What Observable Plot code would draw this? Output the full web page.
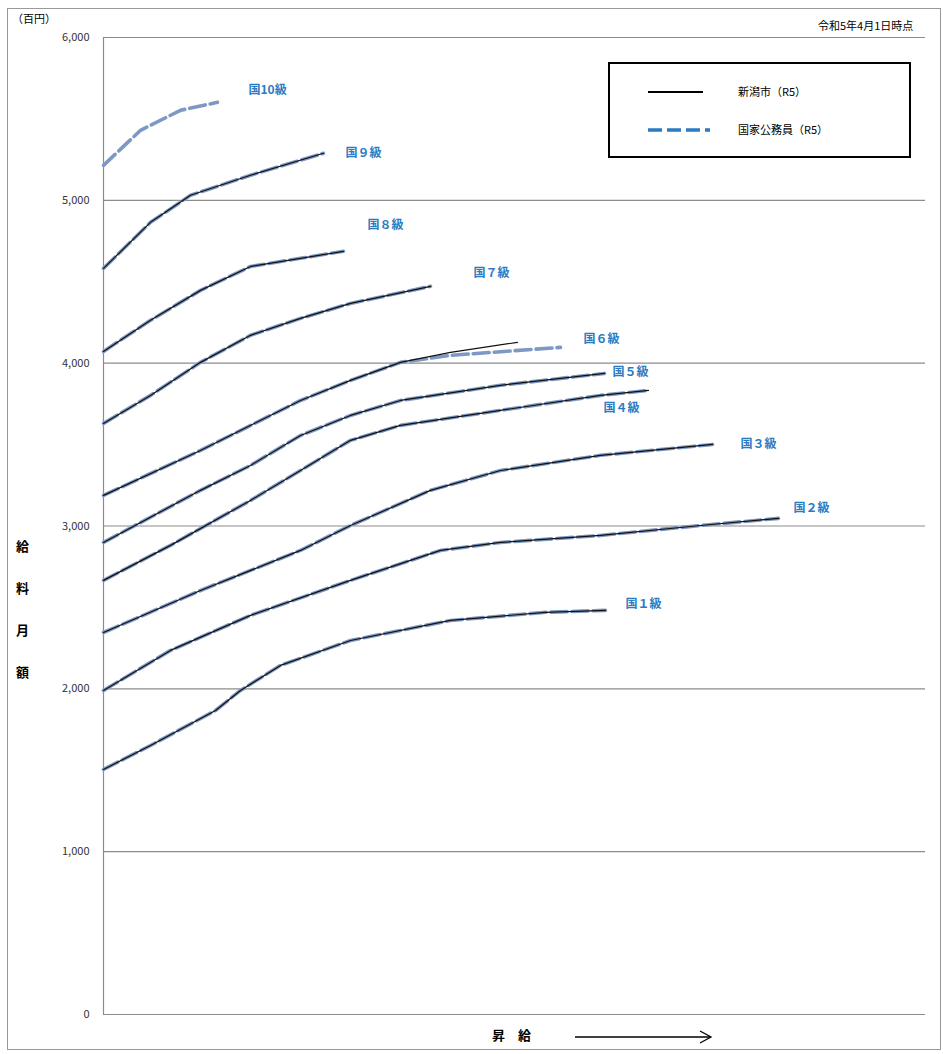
<!DOCTYPE html>
<html><head><meta charset="utf-8">
<script src="https://cdn.jsdelivr.net/npm/d3@7"></script>
<script src="https://cdn.jsdelivr.net/npm/@observablehq/plot@0.6"></script>
<style>
body{margin:0;background:#fff;font-family:"Noto Sans CJK JP",sans-serif}
#wrap{position:relative;width:943px;height:1054px}
.t{position:absolute;white-space:nowrap}
</style></head><body>
<div id="wrap"><div id="vis"></div></div>
<script>
// step position (0 = first step), salary in 百円
const grades = ["国１級","国２級","国３級","国４級","国５級","国６級","国７級","国８級","国９級","国10級"]
const steps = [
  [0,47,112,137,177,247,347,442,502],
  [0,67,147,247,337,397,497,597,675],
  [0,97,197,247,327,397,497,609],
  [0,67,147,197,247,297,397,497,545],
  [0,97,147,197,247,297,397,501],
  [0,97,197,247,297,347,414],
  [0,47,97,147,197,247,327],
  [0,47,97,147,197,240],
  [0,47,87,147,220],
  [0,37,77,114]
]
const salary = [
  [1505,1652,1867,1990,2144,2297,2420,2470,2482],
  [1990,2236,2451,2666,2850,2899,2942,3003,3047],
  [2346,2604,2850,3003,3219,3341,3434,3501],
  [2666,2881,3157,3341,3526,3618,3710,3802,3833],
  [2899,3219,3372,3556,3679,3771,3864,3937],
  [3188,3464,3771,3894,4005,4066,4128],
  [3630,3802,4005,4171,4275,4367,4472],
  [4072,4263,4447,4594,4644,4687],
  [4582,4865,5031,5154,5289],
  [5215,5430,5553,5602]
]
// national grade 6 tail runs lower than Niigata's
const kuni6Steps = [0,97,197,247,297,347,457]
const kuni6Salary = [3188,3464,3771,3894,4005,4048,4097]
// label anchors
const labelX = [522,690,637,500,509,480,370,264,242,145]
const labelY = [2518,3108,3501,3722,3943,4146,4552,4846,5289,5676]

const niigata = [], kuni = []
grades.forEach((g, i) => {
  const xs = i === 5 ? kuni6Steps : steps[i]
  const ys = i === 5 ? kuni6Salary : salary[i]
  xs.forEach((x, j) => kuni.push({g, x, y: ys[j]}))
  if (i < 9) steps[i].forEach((x, j) => niigata.push({g, x, y: salary[i][j]}))
})
const labels = grades.map((g, i) => ({g, x: labelX[i], y: labelY[i]}))

const chart = Plot.plot({
  width: 943, height: 1054,
  marginLeft: 103, marginRight: 18, marginTop: 37, marginBottom: 40,
  x: {domain: [0, 822], axis: null},
  y: {domain: [0, 6000], axis: null},
  marks: [
    Plot.ruleY([0,1000,2000,3000,4000,5000,6000], {stroke: "#8c8c8c", strokeWidth: 1.2}),
    Plot.ruleX([0], {stroke: "#8c8c8c", strokeWidth: 1.2}),
    Plot.axisY({ticks: [0,1000,2000,3000,4000,5000,6000], label: null, tickSize: 0, tickPadding: 14, tickFormat: d3.format(","), fontSize: 11, fill: "#333"}),
    Plot.line(kuni, {x: "x", y: "y", z: "g", stroke: "#7d98c4", strokeWidth: 3.6, strokeDasharray: "16,5"}),
    Plot.line(niigata, {x: "x", y: "y", z: "g", stroke: "#111", strokeWidth: 1.2}),
    Plot.text(labels, {x: "x", y: "y", text: "g", fill: "#2b7bc2", fontWeight: "bold", fontSize: 12, textAnchor: "start"})
  ],
  style: {fontFamily: "Noto Sans CJK JP", background: "#fff"}
})
d3.select('#vis').append(() => chart)

const wrap = d3.select('#wrap')
wrap.append('div').style('position','absolute').style('left','7px').style('top','8px')
  .style('width','932px').style('height','1040px').style('border','1px solid #999').style('pointer-events','none')
const txt = (s, l, t, fs, extra = {}) => {
  const d = wrap.append('div').attr('class','t').text(s).style('left', l+'px').style('top', t+'px').style('font-size', fs+'px')
  Object.entries(extra).forEach(([k, v]) => d.style(k, v))
}
txt("（百円）", 12, 10, 11)
txt("令和5年4月1日時点", 818, 17, 11)
;["給","料","月","額"].forEach((c, i) => txt(c, 16, 536 + i*42, 13, {"font-weight":"bold"}))
txt("昇　給", 492, 1025, 13, {"font-weight":"bold"})
wrap.append('div').style('position','absolute').style('left','608px').style('top','62px')
  .style('width','299px').style('height','92px').style('border','2px solid #000').style('background','#fff')
wrap.append('svg').style('position','absolute').style('left','0').style('top','0')
  .attr('width', 943).attr('height', 1054).style('pointer-events','none')
  .html(`<line x1="648" y1="92" x2="703" y2="92" stroke="#000" stroke-width="2.2"/>
<line x1="648" y1="130" x2="710" y2="130" stroke="#2b7bc2" stroke-width="3.5" stroke-dasharray="14,5"/>
<line x1="575" y1="1037" x2="710" y2="1037" stroke="#000" stroke-width="1.3"/>
<path d="M700,1031 L711,1037 L700,1043" fill="none" stroke="#000" stroke-width="1.3"/>`)
txt("新潟市（R5）", 738, 83, 11)
txt("国家公務員（R5）", 738, 121, 11)
</script></body></html>
